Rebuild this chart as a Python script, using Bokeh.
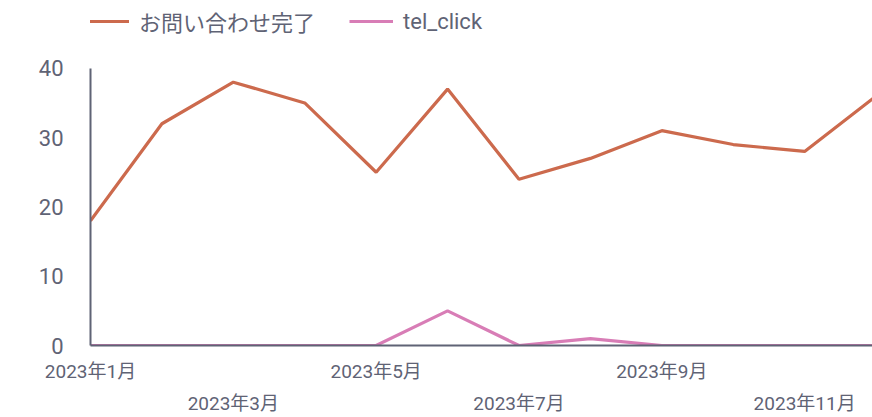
from bokeh.plotting import figure
from bokeh.models import (Range1d, LinearAxis, FixedTicker, Legend, LegendItem, ColumnDataSource)
from bokeh.embed import file_html
from bokeh.resources import INLINE

months = [1, 2, 3, 4, 5, 6, 7, 8, 9, 10, 11, 12]
inquiry = [18, 32, 38, 35, 25, 37, 24, 27, 31, 29, 28, 36]
tel_click = [0, 0, 0, 0, 0, 5, 0, 1, 0, 0, 0, 0]
series_names = ["お問い合わせ完了", "tel_click"]
row1_ticks = [1, 5, 9]
row2_ticks = [3, 7, 11]
tick_labels = {m: f"2023年{m}月" for m in months}
y_ticks = [0, 10, 20, 30, 40]
y_max = 40

FONT = "Roboto, 'Noto Sans CJK JP'"
GREY = "#5f6375"
C1 = "#cc6a4d"
C2 = "#d87db6"

FRAME_H = 346      # frame height in px (frame spans from top of canvas)
AXIS_TOP = 68      # px from top where the value 40 sits

src = ColumnDataSource(dict(x=months, a=inquiry, b=tel_click))

p = figure(width=872, height=417, output_backend="svg", toolbar_location=None,
           x_range=Range1d(1, 11.95),
           y_range=Range1d(0, y_max * FRAME_H / (FRAME_H - AXIS_TOP)),
           x_axis_type=None, y_axis_type=None,
           min_border_left=90, min_border_right=0, min_border_top=0, min_border_bottom=0)
p.title.visible = False
p.outline_line_color = None
p.xgrid.visible = False
p.ygrid.visible = False

r1 = p.line("x", "a", source=src, line_color=C1, line_width=3.2)
r2 = p.line("x", "b", source=src, line_color=C2, line_width=3.2)

yaxis = LinearAxis(ticker=FixedTicker(ticks=y_ticks), bounds=(0, y_max))
yaxis.axis_line_color = GREY
yaxis.axis_line_width = 2
yaxis.major_tick_line_color = None
yaxis.major_tick_out = 0
yaxis.major_tick_in = 0
yaxis.minor_tick_line_color = None
yaxis.major_label_text_font_size = "22px"
yaxis.major_label_text_color = GREY
yaxis.major_label_text_font = FONT
yaxis.major_label_standoff = 27
p.add_layout(yaxis, "left")

xaxis1 = LinearAxis(ticker=FixedTicker(ticks=row1_ticks),
                    major_label_overrides={m: tick_labels[m] for m in row1_ticks})
xaxis1.axis_line_color = GREY
xaxis1.axis_line_width = 2
xaxis1.major_tick_line_color = None
xaxis1.major_tick_out = 0
xaxis1.major_tick_in = 0
xaxis1.minor_tick_line_color = None
xaxis1.major_label_text_font_size = "19px"
xaxis1.major_label_text_color = GREY
xaxis1.major_label_text_font = FONT
xaxis1.major_label_standoff = 14
p.add_layout(xaxis1, "below")

xaxis2 = LinearAxis(ticker=FixedTicker(ticks=row2_ticks),
                    major_label_overrides={m: tick_labels[m] for m in row2_ticks})
xaxis2.axis_line_color = None
xaxis2.major_tick_line_color = None
xaxis2.major_tick_out = 0
xaxis2.major_tick_in = 0
xaxis2.minor_tick_line_color = None
xaxis2.major_label_text_font_size = "19px"
xaxis2.major_label_text_color = GREY
xaxis2.major_label_text_font = FONT
xaxis2.major_label_standoff = 6
p.add_layout(xaxis2, "below")

legend = Legend(items=[LegendItem(label=series_names[0], renderers=[r1]),
                       LegendItem(label=series_names[1], renderers=[r2])],
                orientation="horizontal", location=(-5, 308),
                glyph_width=44, glyph_height=22, label_standoff=10, spacing=34,
                padding=0, margin=0, border_line_color=None, background_fill_alpha=0,
                label_text_font_size="22px", label_text_color=GREY, label_text_font=FONT,
                label_height=22)
p.add_layout(legend, "center")

open("out.html", "w").write(file_html(p, INLINE))
